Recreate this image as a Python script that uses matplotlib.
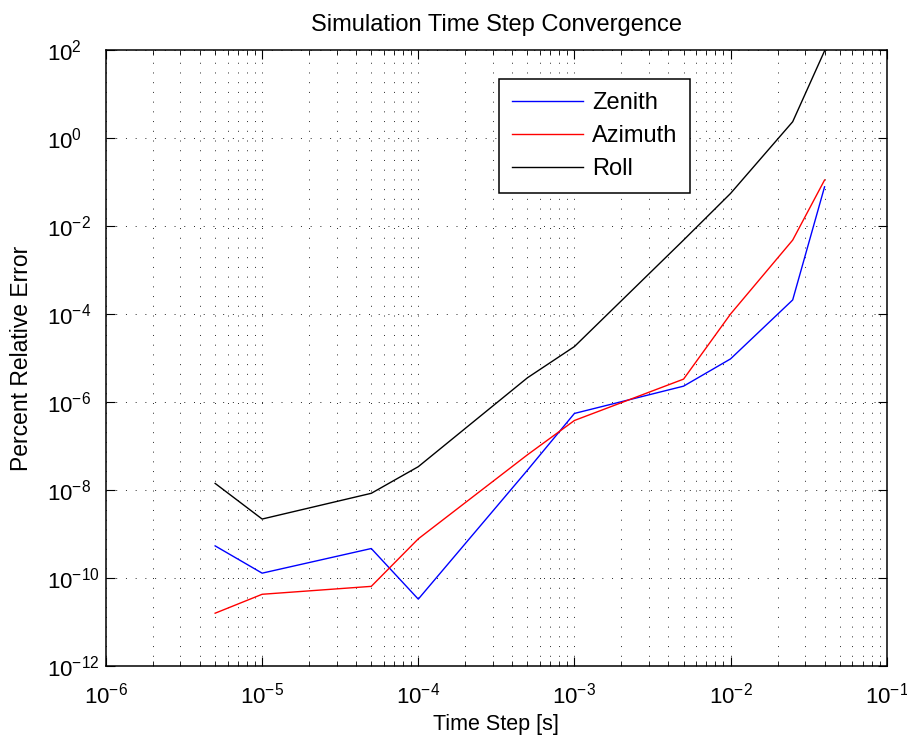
import numpy as np
import matplotlib
matplotlib.use("Agg")
import matplotlib.pyplot as plt
from matplotlib.ticker import FixedLocator, FuncFormatter, NullLocator, LogLocator

plt.rcParams['font.family'] = ['Liberation Sans', 'DejaVu Sans']
plt.rcParams['mathtext.fontset'] = 'custom'
plt.rcParams['mathtext.rm'] = 'Liberation Sans'
plt.rcParams['mathtext.it'] = 'Liberation Sans:italic'
plt.rcParams['mathtext.bf'] = 'Liberation Sans:bold'

# Data (time step [s], percent relative error)
time_step = [5e-6, 1e-5, 5e-5, 1e-4, 5e-4, 1e-3, 5e-3, 1e-2, 2.5e-2, 4e-2]
zenith_log = [-9.27, -9.89, -9.33, -10.48, -7.55, -6.26, -5.64, -5.02, -3.68, -1.11]
azimuth_log = [-10.80, -10.37, -10.19, -9.11, -7.2, -6.42, -5.48, -4.0, -2.32, -0.955]
roll_log = [-7.85, -8.66, -8.075, -7.47, -5.45, -4.74, -2.32, -1.26, 0.37, 1.98]
series_names = ["Zenith", "Azimuth", "Roll"]
series_colors = ["#0000ff", "#ff0000", "#000000"]

zenith = 10.0 ** np.array(zenith_log)
azimuth = 10.0 ** np.array(azimuth_log)
roll = 10.0 ** np.array(roll_log)

fig = plt.figure(figsize=(9.07, 7.36), dpi=100)
ax = fig.add_axes([106/907, 1-666/736, (886.7-106)/907, (666-50)/736])

for vals, name, col in zip([zenith, azimuth, roll], series_names, series_colors):
    ax.plot(time_step, vals, color=col, lw=1.0, label=name)

ax.set_xscale('log')
ax.set_yscale('log')
ax.set_xlim(1e-6, 1e-1)
ax.set_ylim(1e-12, 1e2)

ax.xaxis.set_major_locator(FixedLocator(10.0 ** np.arange(-6, 0)))
ax.xaxis.set_minor_locator(LogLocator(base=10, subs=np.arange(2, 10), numticks=20))
ax.yaxis.set_major_locator(FixedLocator(10.0 ** np.arange(-12, 3, 2)))
ax.yaxis.set_minor_locator(NullLocator())
fmt = FuncFormatter(lambda v, p: r'$10^{%d}$' % int(round(np.log10(v))))
ax.xaxis.set_major_formatter(fmt)
ax.yaxis.set_major_formatter(fmt)
ax.xaxis.set_minor_formatter(plt.NullFormatter())

ax.tick_params(which='both', direction='in', top=True, right=True, labelsize=16)
ax.tick_params(which='major', length=6.5, width=0.8)
ax.tick_params(which='minor', length=3.5, width=0.6)
ax.tick_params(axis='x', which='major', pad=12)
ax.tick_params(axis='y', which='major', pad=42.5)
for lab in ax.get_yticklabels():
    lab.set_horizontalalignment('left')

grid_kw = dict(color='0.15', linestyle=(0, (1, 9)), linewidth=0.7)
ax.grid(True, which='major', axis='both', **grid_kw)
ax.grid(True, which='minor', axis='x', **grid_kw)

for s in ax.spines.values():
    s.set_linewidth(1.1)

ax.set_title("Simulation Time Step Convergence", fontsize=17, pad=14)
ax.set_xlabel("Time Step [s]", fontsize=15.5, labelpad=4)
ax.set_ylabel("Percent Relative Error", fontsize=16.5, labelpad=10)

leg = ax.legend(loc='upper left', bbox_to_anchor=(0.503, 0.953), fontsize=17,
                fancybox=False, framealpha=1, edgecolor='black',
                handlelength=3.0, handletextpad=0.4, borderpad=0.55,
                labelspacing=0.47, borderaxespad=0)
leg.get_frame().set_linewidth(1.1)

fig.savefig("out.png", dpi=100)
